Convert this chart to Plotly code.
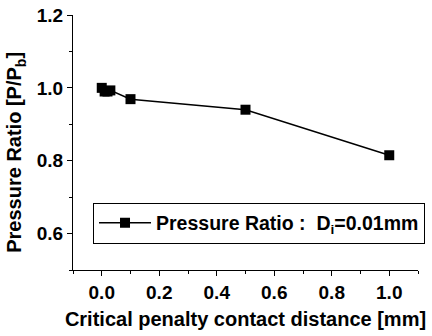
import plotly.graph_objects as go

# Pressure ratio vs. critical penalty contact distance
contact_distance = [0.0, 0.01, 0.02, 0.03, 0.1, 0.5, 1.0]
pressure_ratio = [1.0, 0.99, 0.99, 0.993, 0.969, 0.94, 0.815]

x_ticks = [0.0, 0.2, 0.4, 0.6, 0.8, 1.0]
y_ticks = [0.6, 0.8, 1.0, 1.2]

FONT = "Liberation Sans, Arial, sans-serif"

fig = go.Figure()
fig.add_trace(go.Scatter(
    x=contact_distance,
    y=pressure_ratio,
    mode="lines+markers",
    line=dict(color="black", width=1.5),
    marker=dict(symbol="square", size=10, color="black"),
    name="<b>Pressure Ratio :  D<sub>i</sub>=0.01mm</b>",
))

axis_common = dict(
    showline=True, linecolor="black", linewidth=1.2,
    ticks="outside", ticklen=5, tickwidth=1.2, tickcolor="black",
    showgrid=False, zeroline=False, mirror=False,
    tickfont=dict(family=FONT, size=19, color="black", weight="bold"),
)

fig.update_layout(
    width=432, height=336,
    margin=dict(l=73, r=14, t=15, b=66, autoexpand=False),
    paper_bgcolor="white", plot_bgcolor="white",
    font=dict(family=FONT, color="black"),
    showlegend=True,
    legend=dict(
        x=0.058, y=0.184, xanchor="left", yanchor="middle",
        bordercolor="black", borderwidth=1, bgcolor="white",
        itemwidth=52,
        font=dict(family=FONT, size=19.5, color="black", weight="bold"),
    ),
    xaxis=dict(
        range=[-0.1, 1.1], tickvals=x_ticks, tickformat=".1f",
        minor=dict(dtick=0.1, tick0=0, ticks="outside", ticklen=3, tickcolor="black"),
        title=dict(text="<b>Critical penalty contact distance [mm]</b>",
                   font=dict(family=FONT, size=20), standoff=10),
        **axis_common,
    ),
    yaxis=dict(
        range=[0.5, 1.2], tickvals=y_ticks, tickformat=".1f",
        minor=dict(dtick=0.1, tick0=0, ticks="outside", ticklen=3, tickcolor="black"),
        **axis_common,
    ),
    annotations=[dict(
        text="<b>Pressure Ratio [P/P<sub>b</sub>]</b>",
        textangle=-90, xref="paper", yref="paper",
        x=-0.165, y=0.46, xanchor="center", yanchor="middle",
        showarrow=False, font=dict(family=FONT, size=20, color="black"),
    )],
)

fig.write_html("out.html")
